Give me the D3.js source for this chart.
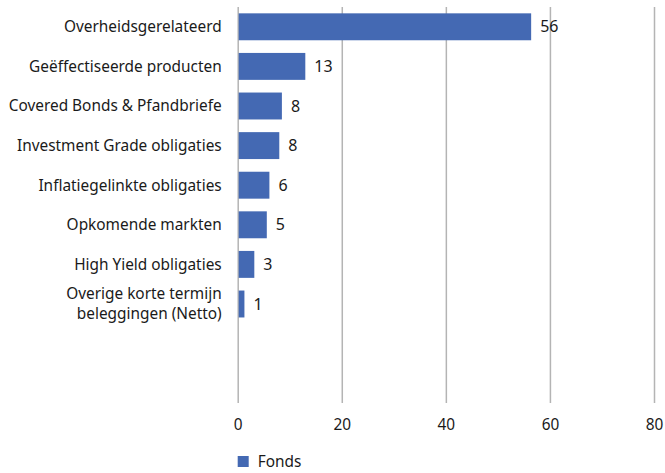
<!DOCTYPE html>
<html lang="nl">
<head>
   <meta charset="UTF-8">
   <title>Fonds verdeling</title>
   <style>
      html, body {
         margin: 0;
         padding: 0;
         background: #ffffff;
      }

      text {
         font-family: "Noto Sans", sans-serif;
         font-size: 15.4px;
         fill: #1a1a1a;
      }

      .value {
         font-size: 16px;
      }

      .grid line {
         stroke: #b4b4b4;
         stroke-width: 1.5px;
      }
   </style>
   <script src="https://cdn.jsdelivr.net/npm/d3@7"></script>
</head>
<body>
   <div class="d3"></div>
   <script>
      // data
      const categories = [
         'Overheidsgerelateerd',
         'Geëffectiseerde producten',
         'Covered Bonds & Pfandbriefe',
         'Investment Grade obligaties',
         'Inflatiegelinkte obligaties',
         'Opkomende markten',
         'High Yield obligaties',
         'Overige korte termijn|beleggingen (Netto)'
      ]
      const values = [56.2, 12.8, 8.3, 7.8, 5.9, 5.4, 3.0, 1.1]
      const valueLabels = ['56', '13', '8', '8', '6', '5', '3', '1']
      const xTicks = [0, 20, 40, 60, 80]
      const seriesName = 'Fonds'

      // setup
      const svg = d3.select('.d3').append('svg')
         .attr('width', 665)
         .attr('height', 473)

      const padding = { top: 7, right: 11, bottom: 70, left: 237.7 }
      const WIDTH = 665 - padding.left - padding.right
      const HEIGHT = 473 - padding.top - padding.bottom

      const xScale = d3.scaleLinear()
         .domain([0, 80])
         .range([0, WIDTH])

      // two empty slots at the bottom, like the original
      const yScale = d3.scaleBand()
         .domain(categories.concat(['_empty1', '_empty2']))
         .range([0, HEIGHT])
         .paddingInner(0.32)
         .paddingOuter(0.16)

      const chart = svg.append('g')
         .attr('transform', `translate(${padding.left}, ${padding.top})`)

      // gridlines
      const xAxis = d3.axisBottom(xScale)
         .tickValues(xTicks)
         .tickSize(-HEIGHT)
         .tickPadding(16)

      const xAxisGroup = chart.append('g')
         .attr('class', 'grid')
         .attr('transform', `translate(0, ${HEIGHT})`)
         .call(xAxis)

      xAxisGroup.select('.domain').remove()
      xAxisGroup.selectAll('text')
         .attr('fill', '#1a1a1a')
         .style('font-size', '15.4px')
         .style('font-family', '"Noto Sans", sans-serif')

      // bars
      chart.selectAll('rect.bar')
         .data(values)
         .enter()
         .append('rect')
         .attr('class', 'bar')
         .attr('x', xScale(0) + 1)
         .attr('y', (d, i) => yScale(categories[i]))
         .attr('width', d => xScale(d) - xScale(0))
         .attr('height', yScale.bandwidth())
         .attr('fill', '#4469b3')

      // value labels
      chart.selectAll('text.value')
         .data(values)
         .enter()
         .append('text')
         .attr('class', 'value')
         .attr('x', d => xScale(d) + 10)
         .attr('y', (d, i) => yScale(categories[i]) + yScale.bandwidth() / 2)
         .attr('dy', '0.35em')
         .text((d, i) => valueLabels[i])

      // category labels, one text per line
      const lineGap = 20
      categories.forEach(cat => {
         const lines = cat.split('|')
         const mid = yScale(cat) + yScale.bandwidth() / 2
         lines.forEach((line, j) => {
            chart.append('text')
               .attr('class', 'cat')
               .attr('text-anchor', 'end')
               .attr('x', -16)
               .attr('y', mid + (j - (lines.length - 1) / 2) * lineGap)
               .attr('dy', '0.35em')
               .text(line)
         })
      })

      // legend
      const legend = svg.append('g')
         .attr('transform', `translate(${padding.left}, 456)`)

      legend.append('rect')
         .attr('width', 11)
         .attr('height', 11)
         .attr('fill', '#4469b3')

      legend.append('text')
         .attr('x', 20)
         .attr('y', 6)
         .attr('dy', '0.35em')
         .text(seriesName)
   </script>
</body>
</html>
